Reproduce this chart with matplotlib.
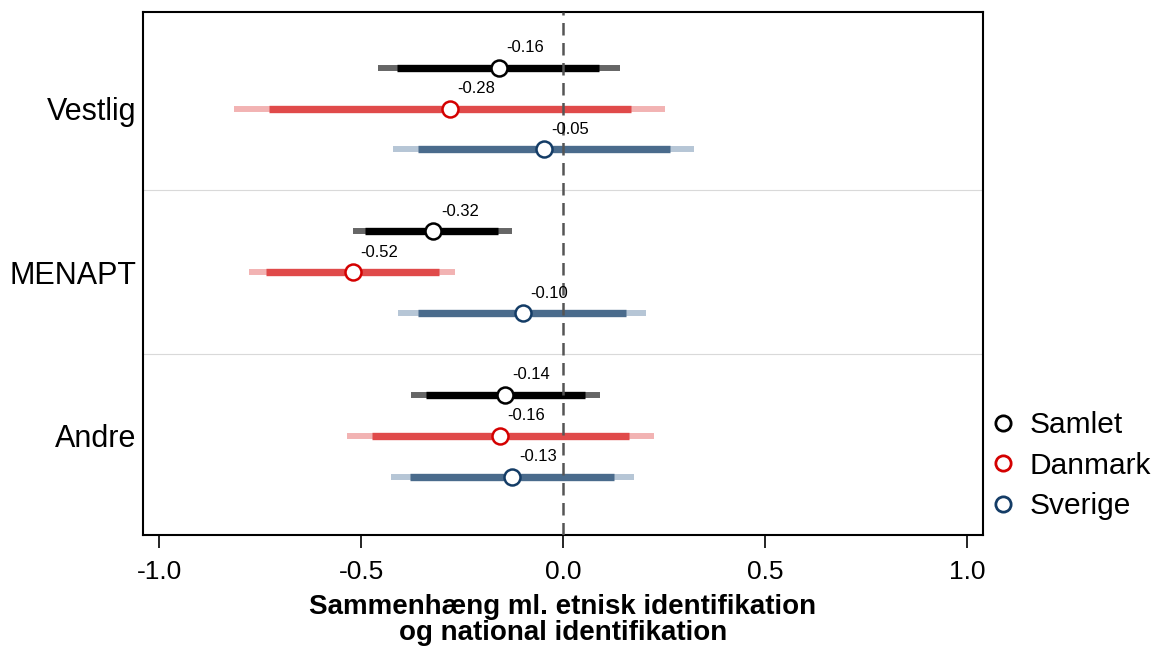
import numpy as np
import matplotlib.pyplot as plt
from matplotlib.lines import Line2D

plt.rcParams['font.family'] = ['Liberation Sans', 'DejaVu Sans']

# grupper (oppefra og ned)
groups = ['Vestlig', 'MENAPT', 'Andre']
series = ['Samlet', 'Danmark', 'Sverige']

# estimater
est_samlet = [-0.159, -0.321, -0.143]
est_danmark = [-0.280, -0.521, -0.156]
est_sverige = [-0.048, -0.100, -0.126]

# indre interval (tyk streg)
lo90_samlet = [-0.41, -0.49, -0.34]
hi90_samlet = [0.09, -0.16, 0.054]
lo90_danmark = [-0.727, -0.736, -0.473]
hi90_danmark = [0.168, -0.308, 0.164]
lo90_sverige = [-0.359, -0.358, -0.38]
hi90_sverige = [0.264, 0.156, 0.126]

# ydre interval (lys streg)
lo95_samlet = [-0.458, -0.519, -0.376]
hi95_samlet = [0.14, -0.125, 0.092]
lo95_danmark = [-0.814, -0.777, -0.535]
hi95_danmark = [0.253, -0.268, 0.226]
lo95_sverige = [-0.42, -0.408, -0.427]
hi95_sverige = [0.324, 0.205, 0.175]

xticks = [-1.0, -0.5, 0.0, 0.5, 1.0]

data = {
    'Samlet': (est_samlet, lo90_samlet, hi90_samlet, lo95_samlet, hi95_samlet),
    'Danmark': (est_danmark, lo90_danmark, hi90_danmark, lo95_danmark, hi95_danmark),
    'Sverige': (est_sverige, lo90_sverige, hi90_sverige, lo95_sverige, hi95_sverige),
}
# farver: (indre, ydre, markørkant)
colors = {
    'Samlet': ('#000000', '#666666', '#000000'),
    'Danmark': ('#e04a4a', '#f2b3b3', '#d40000'),
    'Sverige': ('#4a6b8c', '#b6c6d6', '#143c66'),
}
offsets = {'Samlet': 0.25, 'Danmark': 0.0, 'Sverige': -0.25}

fig = plt.figure(figsize=(11.56, 6.48), dpi=100)
ax = fig.add_axes([0.1237, 0.1744, 0.7266, 0.8071])

centers = np.array([3, 2, 1])
for s in series:
    est, l90, h90, l95, h95 = data[s]
    c_in, c_out, c_edge = colors[s]
    y = centers + offsets[s]
    ax.hlines(y, l95, h95, color=c_out, lw=4.3, zorder=2)
    ax.hlines(y, l90, h90, color=c_in, lw=5.3, zorder=2.2)
    ax.plot(est, y, 'o', ms=11.5, mfc='white', mec=c_edge, mew=1.8, zorder=4)
    for xi, yi in zip(est, y):
        ax.annotate('%.2f' % xi, (xi, yi), xytext=(19, 14.5), textcoords='offset points',
                    ha='center', va='center', fontsize=12, zorder=5)

ax.axvline(0, color='#555555', lw=1.8, ls=(0, (5, 3)), zorder=3)
for yy in [1.5, 2.5]:
    ax.axhline(yy, color='#d9d9d9', lw=0.8, zorder=1)

ax.set_xlim(-1.04, 1.04)
ax.set_ylim(0.395, 3.59)
ax.set_yticks(centers)
ax.set_yticklabels(groups, fontsize=22)
ax.tick_params(axis='y', length=0, pad=5)
ax.set_xticks(xticks)
ax.set_xticklabels(['%.1f' % t for t in xticks], fontsize=19)
ax.tick_params(axis='x', length=9, width=1.2, pad=9)
for sp in ax.spines.values():
    sp.set_linewidth(1.5)

ax.set_xlabel('Sammenhæng ml. etnisk identifikation\nog national identifikation',
              fontsize=20, fontweight='bold', linespacing=1.0, labelpad=7)

handles = [Line2D([], [], ls='none', marker='o', ms=11, mfc='white',
                  mec=colors[s][2], mew=2) for s in series]
fig.legend(handles, series, loc='center left', bbox_to_anchor=(0.829, 0.281),
           frameon=False, fontsize=21.5, handletextpad=0.3, labelspacing=0.42,
           handlelength=1.2)

fig.savefig('out.png', dpi=100)
